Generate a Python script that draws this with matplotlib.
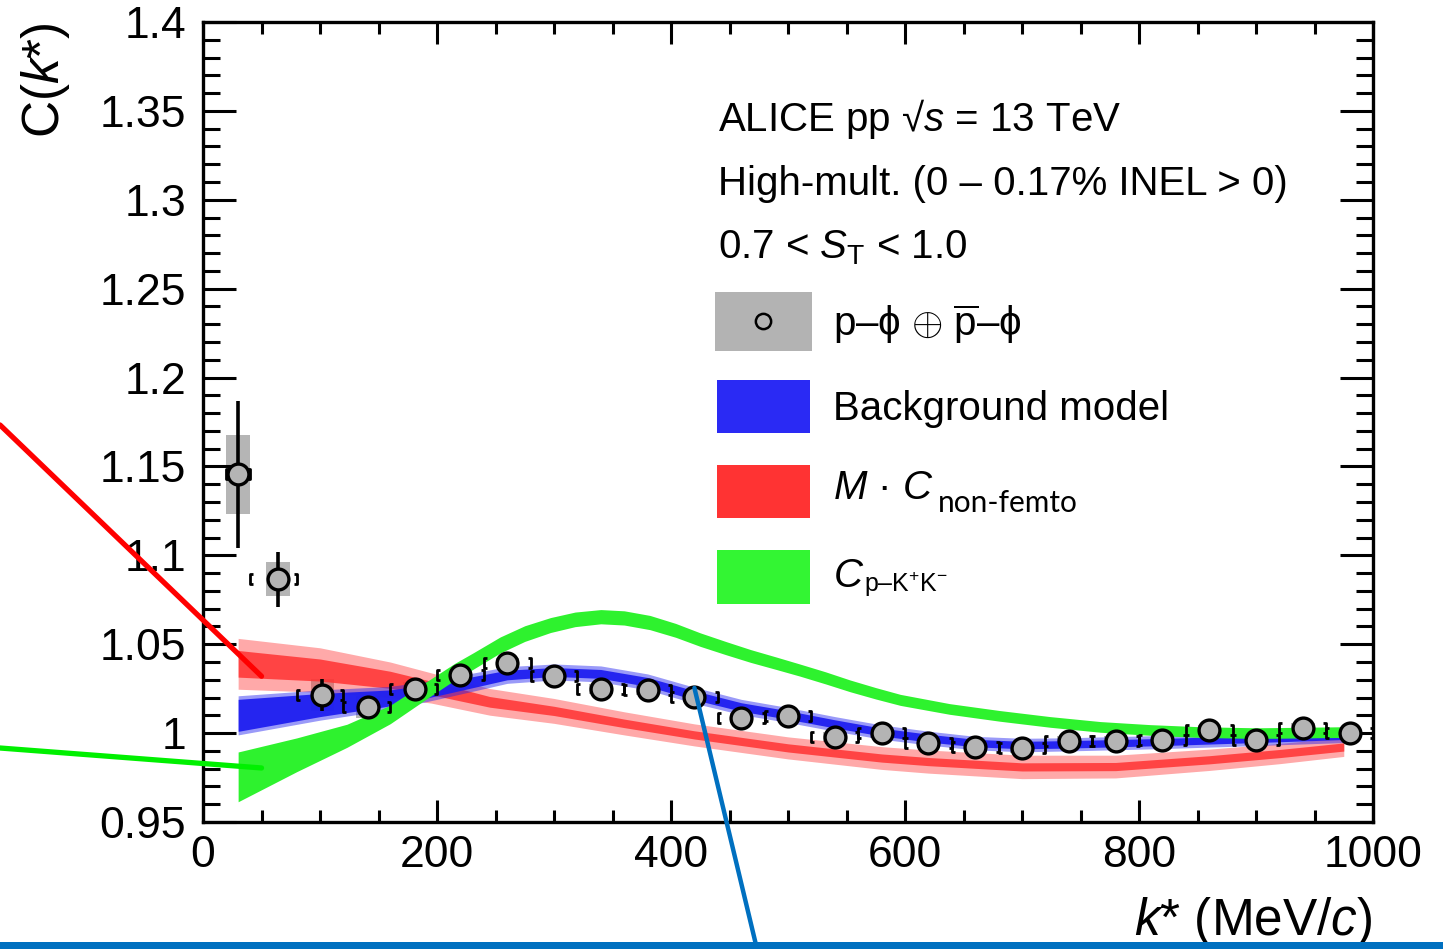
import numpy as np
import matplotlib
matplotlib.use('Agg')
import matplotlib.pyplot as plt
from matplotlib.path import Path
from matplotlib.patches import Rectangle
from matplotlib.ticker import FixedLocator, FixedFormatter, MultipleLocator

plt.rcParams['font.family'] = ['Liberation Sans', 'DejaVu Sans']
plt.rcParams['mathtext.fontset'] = 'custom'
plt.rcParams['mathtext.rm'] = 'Liberation Sans'
plt.rcParams['mathtext.it'] = 'Liberation Sans:italic'
plt.rcParams['mathtext.bf'] = 'Liberation Sans:bold'

FS_TICK = 32
FS_LABEL = 37
FS_TEXT = 29

# p-phi (+ antiparticle) correlation function
k_data = [30, 64, 102, 141, 181, 220, 260, 300, 340, 380, 420, 460, 500,
          540, 580, 620, 660, 700, 740, 780, 820, 860, 900, 940, 980]
c_data = [1.1455, 1.0865, 1.0215, 1.0147, 1.0249, 1.0327, 1.0395, 1.0322,
          1.0249, 1.0243, 1.0204, 1.0085, 1.0097, 0.9979, 1.0001, 0.9947,
          0.9922, 0.9916, 0.9956, 0.9956, 0.9962, 1.0018, 0.9962, 1.0029,
          1.0001]
stat_err = [0.0415, 0.0155, 0.009, 0.006, 0.004, 0.004, 0.003, 0.003, 0.003,
            0.003, 0.003, 0.003, 0.003, 0.003, 0.003, 0.003, 0.003, 0.003,
            0.003, 0.003, 0.003, 0.003, 0.003, 0.003, 0.003]
syst_err = [0.022, 0.0096, 0.009, 0.006, 0.004, 0.003, 0.003, 0.003, 0.003,
            0.003, 0.003, 0.003, 0.003, 0.003, 0.003, 0.003, 0.003, 0.003,
            0.003, 0.003, 0.003, 0.003, 0.003, 0.003, 0.003]
bin_lo = [20, 40, 80, 120, 160, 200, 240, 280, 320, 360, 400, 440, 480,
          520, 560, 600, 640, 680, 720, 760, 800, 840, 880, 920, 960]
bin_hi = [40, 80, 120, 160, 200, 240, 280, 320, 360, 400, 440, 480, 520,
          560, 600, 640, 680, 720, 760, 800, 840, 880, 920, 960, 1000]
box_half = 10

# background model band
k_bkg = [30, 100, 160, 200, 260, 300, 340, 380, 420, 460, 500, 540, 580,
         620, 660, 700, 740, 820, 900, 975]
bkg_mid = [1.0100, 1.0158, 1.0198, 1.0245, 1.0327, 1.0344, 1.0333, 1.0288,
           1.0213, 1.0147, 1.0102, 1.0052, 1.0006, 0.9972, 0.9944, 0.9933,
           0.9937, 0.9950, 0.9967, 0.9984]
bkg_dark = [0.0090, 0.0065, 0.0045, 0.0035, 0.0027, 0.0025, 0.0025, 0.0025,
            0.0025, 0.0024, 0.0024, 0.0023, 0.0022, 0.0022, 0.0021, 0.0021,
            0.0021, 0.0020, 0.0020, 0.0020]
bkg_light = [0.0110, 0.0085, 0.0065, 0.0055, 0.0047, 0.0045, 0.0045, 0.0045,
             0.0045, 0.0043, 0.0042, 0.0041, 0.0040, 0.0039, 0.0038, 0.0038,
             0.0037, 0.0037, 0.0037, 0.0037]

# M * C_non-femto band
k_nf = [30, 100, 160, 195, 245, 300, 360, 420, 500, 580, 620, 700, 780, 860,
        920, 975]
nf_mid = [1.0390, 1.0355, 1.0300, 1.0254, 1.0176, 1.0125, 1.0055, 0.9990,
          0.9917, 0.9860, 0.9840, 0.9810, 0.9812, 0.9850, 0.9885, 0.9922]
nf_light = [0.0143, 0.0125, 0.0100, 0.0085, 0.0075, 0.0070, 0.0065, 0.0062,
            0.0062, 0.0064, 0.0065, 0.0066, 0.0064, 0.0060, 0.0057, 0.0053]
nf_dark = [0.0075, 0.0062, 0.0048, 0.0038, 0.0030, 0.0026, 0.0024, 0.0023,
           0.0023, 0.0023, 0.0023, 0.0023, 0.0023, 0.0023, 0.0023, 0.0023]

# C_p-K+K- band
k_pkk = [30, 80, 123, 160, 194, 215, 231, 254, 275, 297, 318, 340, 360, 382,
         404, 425, 447, 468, 490, 510, 532, 553, 575, 596, 638, 681, 724,
         767, 809, 852, 900, 940, 975]
pkk_mid = [0.9754, 0.9878, 0.9985, 1.0105, 1.0254, 1.0345, 1.0406, 1.0496,
           1.0560, 1.0608, 1.0640, 1.0655, 1.0648, 1.0622, 1.0578, 1.0526,
           1.0478, 1.0434, 1.0393, 1.0355, 1.0311, 1.0266, 1.0224, 1.0187,
           1.0136, 1.0097, 1.0063, 1.0035, 1.0018, 1.0006, 1.0000, 1.0003,
           1.0006]
pkk_half = [0.0140, 0.0095, 0.0065, 0.0052, 0.0048, 0.0047, 0.0046, 0.0045,
            0.0044, 0.0042, 0.0041, 0.0040, 0.0040, 0.0040, 0.0039, 0.0038,
            0.0037, 0.0036, 0.0035, 0.0034, 0.0034, 0.0033, 0.0032, 0.0031,
            0.0030, 0.0030, 0.0030, 0.0030, 0.0030, 0.0030, 0.0030, 0.0030,
            0.0030]

x_ticks = [0, 200, 400, 600, 800, 1000]
x_labels = ['0', '200', '400', '600', '800', '1000']
y_ticks = [0.95, 1.0, 1.05, 1.1, 1.15, 1.2, 1.25, 1.3, 1.35, 1.4]
y_labels = ['0.95', '1', '1.05', '1.1', '1.15', '1.2', '1.25', '1.3', '1.35', '1.4']

fig = plt.figure(figsize=(14.43, 9.49), dpi=100)
ax = fig.add_axes([0.1407, 0.1338, 0.8108, 0.8430])
ax.set_xlim(0, 1000)
ax.set_ylim(0.95, 1.4)


def band(k, mid, half, color, alpha, z):
    k = np.asarray(k)
    mid = np.asarray(mid)
    half = np.asarray(half)
    ax.fill_between(k, mid - half, mid + half, color=color, alpha=alpha,
                    lw=0, zorder=z)


red = '#ff3333'
blue = '#1f1ff0'
green = '#2ef22e'
band(k_nf, nf_mid, nf_light, red, 0.42, 1.0)
band(k_nf, nf_mid, nf_dark, red, 0.85, 1.1)
band(k_bkg, bkg_mid, bkg_light, blue, 0.45, 2.0)
band(k_bkg, bkg_mid, bkg_dark, blue, 0.95, 2.1)
band(k_pkk, pkk_mid, pkk_half, green, 1.0, 3.0)

# systematic boxes
for k, c, s in zip(k_data, c_data, syst_err):
    ax.add_patch(Rectangle((k - box_half, c - s), 2 * box_half, 2 * s,
                           facecolor='#a8a8a8', edgecolor='none', alpha=0.85,
                           zorder=0.5))

k_arr = np.array(k_data)
c_arr = np.array(c_data)
ax.errorbar(k_arr, c_arr, yerr=stat_err, fmt='none', ecolor='black',
            elinewidth=2.6, capsize=0, zorder=9)

# bin-edge brackets
lbr = Path([(0.5, 1), (0, 1), (0, -1), (0.5, -1)],
           [Path.MOVETO, Path.LINETO, Path.LINETO, Path.LINETO])
rbr = Path([(-0.5, 1), (0, 1), (0, -1), (-0.5, -1)],
           [Path.MOVETO, Path.LINETO, Path.LINETO, Path.LINETO])
ax.plot(bin_lo, c_arr, ls='none', marker=lbr, ms=7.5, mew=2.0,
        mec='black', mfc='none', zorder=9)
ax.plot(bin_hi, c_arr, ls='none', marker=rbr, ms=7.5, mew=2.0,
        mec='black', mfc='none', zorder=9)
ax.plot(k_arr, c_arr, ls='none', marker='o', ms=15, mfc='#b4b4b4',
        mec='black', mew=2.4, zorder=10)

# axes styling
for sp in ax.spines.values():
    sp.set_linewidth(2.4)
ax.xaxis.set_major_locator(FixedLocator(x_ticks))
ax.xaxis.set_major_formatter(FixedFormatter(x_labels))
ax.xaxis.set_minor_locator(MultipleLocator(50))
ax.yaxis.set_major_locator(FixedLocator(y_ticks))
ax.yaxis.set_major_formatter(FixedFormatter(y_labels))
ax.yaxis.set_minor_locator(MultipleLocator(0.01))
ax.tick_params(which='both', direction='in', top=True, right=True,
               width=2.2, labelsize=FS_TICK)
ax.tick_params(axis='y', which='major', length=24, pad=12)
ax.tick_params(axis='y', which='minor', length=12.5)
ax.tick_params(axis='x', which='major', length=16, pad=9)
ax.tick_params(axis='x', which='minor', length=8.5)

ax.text(-0.135, 1.0, 'C($k$*)', transform=ax.transAxes, rotation=90,
        ha='center', va='top', fontsize=FS_LABEL)
ax.text(1.0, -0.141, '$k$* (MeV/$c$)', transform=ax.transAxes,
        ha='right', va='baseline', fontsize=FS_LABEL)

# header
ax.text(0.44, 0.864, 'ALICE pp \u221a$s$ = 13 TeV', transform=ax.transAxes,
        fontsize=FS_TEXT, va='baseline')
ax.text(0.44, 0.784, 'High-mult. (0 \u2013 0.17% INEL > 0)',
        transform=ax.transAxes, fontsize=FS_TEXT, va='baseline')
ax.text(0.44, 0.704, r'0.7 < $S_{\mathrm{T}}$ < 1.0', transform=ax.transAxes,
        fontsize=FS_TEXT, va='baseline')

# legend
leg_x = 0.4393
leg_w = 0.0795
ax.add_patch(Rectangle((0.4376, 0.589), 0.0829, 0.0735, transform=ax.transAxes,
                       facecolor='#b3b3b3', edgecolor='none', clip_on=False,
                       zorder=5))
ax.plot([0.4786], [0.626], transform=ax.transAxes, ls='none', marker='o',
        ms=11, mfc='none', mec='black', mew=1.8, zorder=6, clip_on=False)
ax.add_patch(Rectangle((leg_x, 0.4863), leg_w, 0.0662, transform=ax.transAxes,
                       facecolor='#2a2af4', edgecolor='none', zorder=5))
ax.add_patch(Rectangle((leg_x, 0.380), leg_w, 0.066, transform=ax.transAxes,
                       facecolor=red, edgecolor='none', zorder=5))
ax.add_patch(Rectangle((leg_x, 0.2725), leg_w, 0.0675, transform=ax.transAxes,
                       facecolor='#33f533', edgecolor='none', zorder=5))

tx = 0.5385
ax.text(tx, 0.6075,
        'p\u2013$\\mathrm{\\phi}$ $\\oplus$ $\\overline{\\mathrm{p}}$\u2013$\\mathrm{\\phi}$',
        transform=ax.transAxes, fontsize=FS_TEXT, va='baseline')
ax.text(tx, 0.5025, 'Background model', transform=ax.transAxes,
        fontsize=FS_TEXT, va='baseline')
ax.text(tx, 0.40375, '$M$ \u00b7 $C$', transform=ax.transAxes,
        fontsize=FS_TEXT, va='baseline')
ax.text(0.628, 0.3875, 'non-femto', transform=ax.transAxes, fontsize=21.5,
        family='Lato', va='baseline')
ax.text(tx, 0.29375, '$C$', transform=ax.transAxes, fontsize=FS_TEXT,
        va='baseline')
ax.text(0.565, 0.2875, 'p\u2013K$^{+}$K$^{-}$', transform=ax.transAxes,
        fontsize=18, va='baseline')

# pointer lines
ann = dict(arrowstyle='-', shrinkA=0, shrinkB=0)
ax.annotate('', xy=(50, 1.032), xycoords='data', xytext=(0, 0.5522),
            textcoords='figure fraction', annotation_clip=False,
            arrowprops=dict(ann, color='#ff0000', lw=3.8), zorder=20)
ax.annotate('', xy=(50, 0.9804), xycoords='data', xytext=(0, 0.2118),
            textcoords='figure fraction', annotation_clip=False,
            arrowprops=dict(ann, color='#00f000', lw=3.8), zorder=20)
ax.annotate('', xy=(420, 1.0254), xycoords='data', xytext=(0.5246, 0.0),
            textcoords='figure fraction', annotation_clip=False,
            arrowprops=dict(ann, color='#0070c0', lw=3.2), zorder=20)

fig.add_artist(Rectangle((0, 0), 1, 7 / 949, transform=fig.transFigure,
                         facecolor='#0070c0', edgecolor='none', zorder=30))

fig.savefig('out.png', dpi=100)
